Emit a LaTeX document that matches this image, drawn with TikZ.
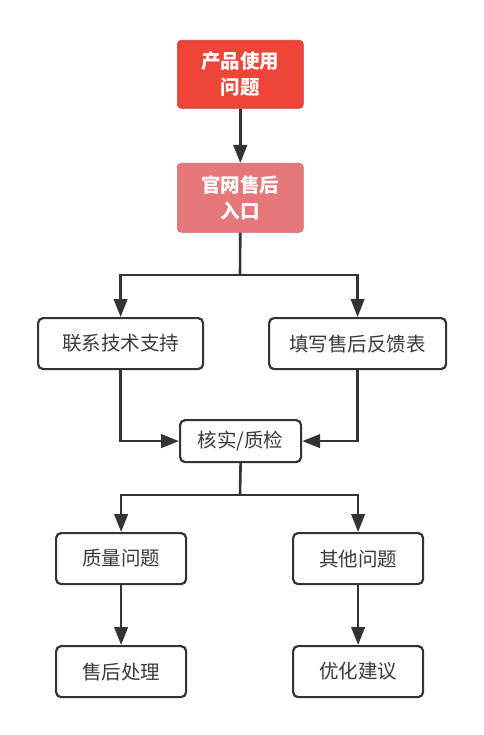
\documentclass[tikz,border=0pt]{standalone}
\usepackage{fontspec}
\newfontfamily\cjk{Noto Sans CJK SC}
\usetikzlibrary{arrows.meta}
\definecolor{redA}{HTML}{EF4438}
\definecolor{redB}{HTML}{E5767A}
\definecolor{edge}{HTML}{333333}
\definecolor{txt}{HTML}{3A3A3A}
\tikzset{
  box/.style={draw=edge, line width=2.2pt, rounded corners=5pt, fill=white, text=txt,
    font=\cjk\fontsize{19.5}{23}\selectfont, inner sep=0pt, anchor=north west},
  topbox/.style={rounded corners=4pt, text=white, align=center,
    font=\cjk\bfseries\fontsize{19.5}{26}\selectfont, inner sep=0pt, anchor=north west},
  conn/.style={draw=edge, line width=2.6pt},
  arr/.style={conn, -{Triangle[width=13.5pt,length=18pt]}},
}
\begin{document}
\begin{tikzpicture}[x=1pt,y=-1pt]
\useasboundingbox (0,0) rectangle (483,735);
\fill[white] (0,0) rectangle (483,735);
\node[topbox, fill=redA, draw=redA!85!black, line width=0.6pt, minimum width=126pt, minimum height=68pt] (a) at (177,40) {产品使用\\问题};
\node[topbox, fill=redB, draw=redB!90!black, line width=0.6pt, minimum width=126pt, minimum height=69pt] (b) at (177,163) {官网售后\\入口};
\node[box, minimum width=165pt, minimum height=51pt] (c) at (37,317) {联系技术支持};
\node[box, minimum width=177pt, minimum height=51pt] (d) at (268,317) {填写售后反馈表};
\node[box, minimum width=121pt, minimum height=42pt] (e) at (179,419) {核实/质检};
\node[box, minimum width=130pt, minimum height=51pt] (f) at (55,532) {质量问题};
\node[box, minimum width=130pt, minimum height=51pt] (g) at (292,532) {其他问题};
\node[box, minimum width=130pt, minimum height=51pt] (h) at (55,645) {售后处理};
\node[box, minimum width=130pt, minimum height=51pt] (i) at (292,645) {优化建议};
\coordinate (s1) at (240,275);
\coordinate (s2) at (240,495);
\draw[arr] (a.south) -- (b.north);
\draw[conn] (b.south) -- (s1);
\draw[arr] (s1) -| (c.north);
\draw[arr] (s1) -| (d.north);
\draw[arr] (c.south) |- (e.west);
\draw[arr] (d.south) |- (e.east);
\draw[conn] (e.south) -- (s2);
\draw[arr] (s2) -| (f.north);
\draw[arr] (s2) -| (g.north);
\draw[arr] (f.south) -- (h.north);
\draw[arr] (g.south) -- (i.north);
\end{tikzpicture}
\end{document}
